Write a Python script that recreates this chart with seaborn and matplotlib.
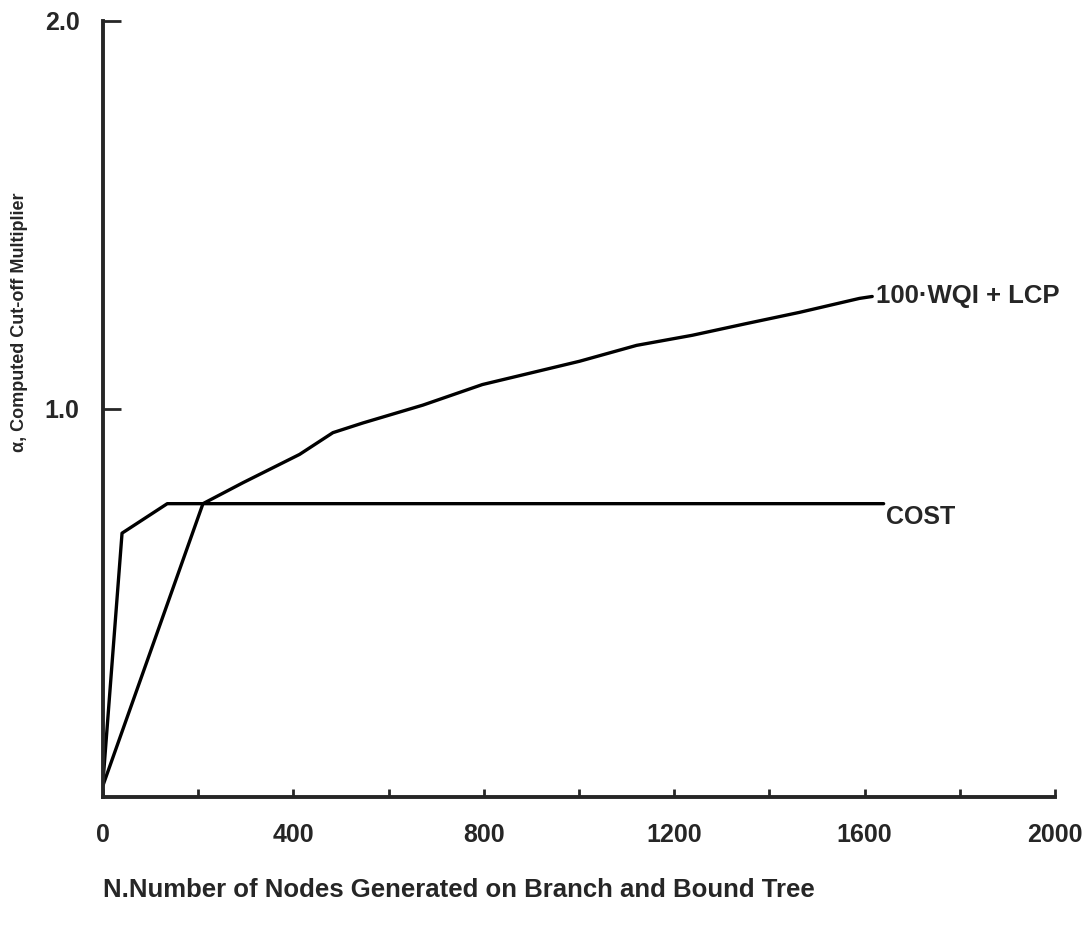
import seaborn as sns
import pandas as pd
from matplotlib import pyplot as plt

# valores
cost_x = [0, 40, 135, 1640]
cost_y = [0.04, 0.68, 0.756, 0.756]

wqi_x = [0, 210, 294, 413, 483, 546, 672, 797, 1001, 1121, 1238, 1351, 1463, 1589, 1616]
wqi_y = [0.03, 0.756, 0.81, 0.883, 0.939, 0.964, 1.01, 1.063, 1.123, 1.164, 1.19, 1.22, 1.249, 1.285, 1.29]

xticks = [0, 400, 800, 1200, 1600, 2000]
xticks_minor = [200, 600, 1000, 1400, 1800]
yticks = [1.0, 2.0]
ytick_labels = ['1.0', '2.0']

sns.set_style('ticks')
plt.rcParams['font.family'] = ['Liberation Sans', 'DejaVu Sans']

cost = pd.DataFrame({'x': cost_x, 'y': cost_y})
wqi = pd.DataFrame({'x': wqi_x, 'y': wqi_y})

fig = plt.figure(figsize=(10.92, 9.26), dpi=100)
ax = fig.add_axes([103 / 1092, 1 - 797 / 926, (1055 - 103) / 1092, (797 - 21) / 926])

sns.lineplot(data=cost, x='x', y='y', sort=False, color='black', linewidth=2.4, ax=ax)
sns.lineplot(data=wqi, x='x', y='y', sort=False, color='black', linewidth=2.4, ax=ax)

ax.set_xlim(0, 2000)
ax.set_ylim(0, 2.0)
ax.set_xticks(xticks)
ax.set_xticks(xticks_minor, minor=True)
ax.set_yticks(yticks)
ax.set_yticklabels(ytick_labels)
ax.tick_params(axis='x', which='both', direction='in', length=6, width=2, pad=19,
               labelsize=18)
ax.tick_params(axis='y', direction='in', length=13, width=2, pad=17, labelsize=18)
for lab in ax.get_xticklabels() + ax.get_yticklabels():
    lab.set_fontweight('bold')

sns.despine(ax=ax)
ax.spines['left'].set_linewidth(2.8)
ax.spines['bottom'].set_linewidth(2.8)
ax.set_xlabel('')
ax.set_ylabel('')

ax.text(1625, 1.29, '100·WQI + LCP', fontsize=18.5, fontweight='bold', va='center', ha='left')
ax.text(1645, 0.722, 'COST', fontsize=18, fontweight='bold', va='center', ha='left')

fig.text(103 / 1092, 1 - 890 / 926, 'N.Number of Nodes Generated on Branch and Bound Tree',
         fontsize=18.5, fontweight='bold', ha='left', va='center')
fig.text(20 / 1092, 1 - 322 / 926, 'α, Computed Cut-off Multiplier',
         fontsize=13, fontweight='bold', rotation=90, ha='center', va='center')

fig.savefig('out.png', dpi=100)
